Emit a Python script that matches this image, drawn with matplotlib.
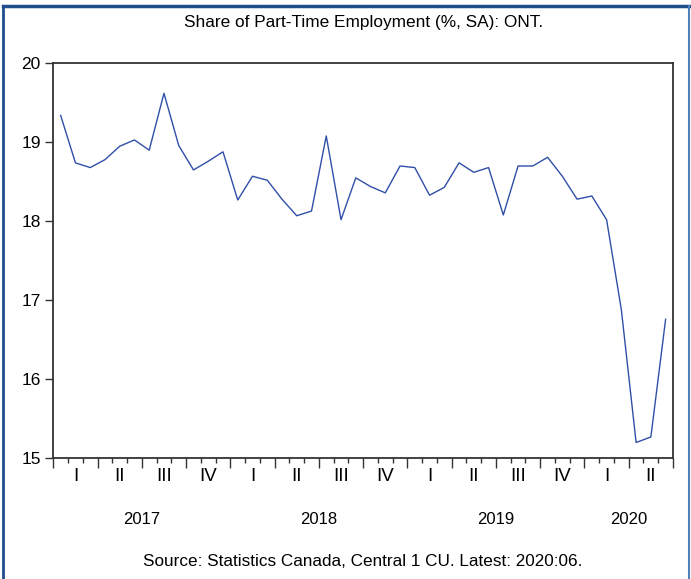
import matplotlib
matplotlib.use("Agg")
import matplotlib.pyplot as plt
from matplotlib.lines import Line2D
import numpy as np

plt.rcParams['font.family'] = ['Liberation Sans', 'DejaVu Sans']

# Monthly data 2017:01 - 2020:06
values = [19.34, 18.74, 18.68, 18.78, 18.95, 19.03, 18.90, 19.62, 18.96, 18.65, 18.76, 18.88,
          18.27, 18.57, 18.52, 18.28, 18.07, 18.13, 19.08, 18.02, 18.55, 18.44, 18.36, 18.70,
          18.68, 18.33, 18.43, 18.74, 18.62, 18.68, 18.08, 18.70, 18.70, 18.81, 18.57, 18.28,
          18.32, 18.02, 16.88, 15.20, 15.27, 16.76]
quarter_labels = ["I", "II", "III", "IV"] * 3 + ["I", "II"]
year_labels = ["2017", "2018", "2019", "2020"]
title = "Share of Part-Time Employment (%, SA): ONT."
source = "Source: Statistics Canada, Central 1 CU. Latest: 2020:06."

W, H = 691, 579
fig = plt.figure(figsize=(W / 100, H / 100), dpi=100)
ax = fig.add_axes([53.3 / W, 1 - 458.3 / H, (673 - 53.3) / W, (458.3 - 63.3) / H])

n = len(values)
x = np.arange(n) + 0.5
ax.plot(x, values, color='#2f4fa8', lw=1.0)

ax.set_xlim(0, n)
ax.set_ylim(15, 20)
ax.set_yticks([15, 16, 17, 18, 19, 20])
ax.set_yticklabels(["15", "16", "17", "18", "19", "20"])
ax.set_xticks(np.arange(0, n + 1, 3))
ax.set_xticklabels([])
ax.set_xticks(np.arange(0, n + 1, 1), minor=True)
ax.tick_params(axis='x', which='major', length=7, width=1, color='#333333', direction='out')
ax.tick_params(axis='x', which='minor', length=3.5, width=1, color='#333333', direction='out')
ax.tick_params(axis='y', which='major', length=6, width=1, color='#333333', labelsize=12.5, pad=3)
for s in ax.spines.values():
    s.set_color('#333333')
    s.set_linewidth(1.3)

tr = ax.get_xaxis_transform()
for i, q in enumerate(quarter_labels):
    ax.text(i * 3 + 1.5, -0.047, q, transform=tr, ha='center', va='center', fontsize=13.5)
year_centers = [6, 18, 30, 39]
for xc, yl in zip(year_centers, year_labels):
    ax.text(xc, -0.154, yl, transform=tr, ha='center', va='center', fontsize=12)

cx = (53.3 + 673) / 2 / W
fig.text(cx, 1 - 22 / H, title, ha='center', va='center', fontsize=12.4)
fig.text(cx, 1 - 562 / H, source, ha='center', va='center', fontsize=12.3)

bc = '#1f4e8c'
fig.add_artist(Line2D([3 / W, 3 / W], [0, 1 - 6 / H], transform=fig.transFigure, color=bc, lw=2))
fig.add_artist(Line2D([3 / W, 689 / W], [1 - 6 / H, 1 - 6 / H], transform=fig.transFigure, color=bc, lw=2.5))
fig.add_artist(Line2D([689 / W, 689 / W], [0, 1 - 6 / H], transform=fig.transFigure, color='#4f7fb8', lw=1.5))

fig.savefig("out.png", dpi=100)
